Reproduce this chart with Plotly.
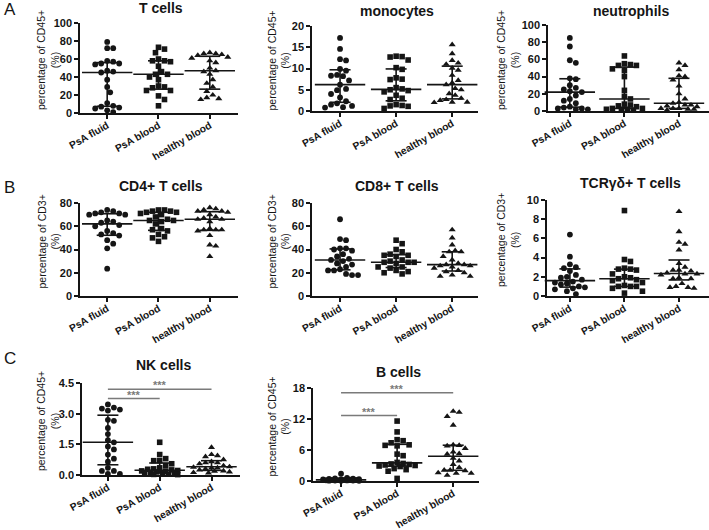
import numpy as np
import plotly.graph_objects as go

# ---------------- data ----------------
groups = ["PsA fluid", "PsA blood", "healthy blood"]

tcells_fluid = [79, 72, 72, 58, 57, 55, 55, 54, 47, 46, 45, 37, 29, 23, 11, 8, 7, 6, 5, 3, 1]
tcells_blood = [73, 71, 67, 60, 58, 58, 57, 52, 46, 43, 43, 40, 37, 30, 29, 28, 25, 25, 19, 15, 8]
tcells_healthy = [67, 66, 66, 65, 64, 62, 61, 58, 56, 50, 47, 46, 43, 37, 33, 29, 24, 20, 17, 16, 15]

mono_fluid = [17.2, 14.6, 12.2, 11.9, 9.9, 9.5, 8.5, 8.3, 8.2, 7.2, 6.2, 5.2, 4.9, 4.0, 3.2, 2.3, 1.8, 1.5, 1.2, 0.9, 0.8]
mono_blood = [12.9, 12.8, 12.7, 12.0, 10.2, 9.8, 7.8, 7.5, 7.4, 5.5, 5.2, 5.0, 4.8, 4.5, 3.7, 3.0, 2.7, 1.5, 1.3, 1.2, 1.1, 0.6]
mono_healthy = [15.6, 13.5, 11.9, 11.3, 11.0, 10.1, 9.6, 8.4, 7.2, 6.6, 6.2, 5.3, 5.0, 4.1, 3.7, 3.0, 2.7, 2.5, 2.1, 2.0, 2.1]

neut_fluid = [85, 75, 59, 56, 38, 37, 30, 27, 25, 23, 22, 18, 14, 12, 9, 5, 4, 3, 3, 2, 2]
neut_blood = [64, 55, 54, 53, 53, 49, 47, 40, 24, 17, 14, 8, 7, 6, 5, 3, 3, 2, 2, 2, 1]
neut_healthy = [56, 53, 48, 41, 40, 36, 29, 20, 14, 10, 9, 7, 7, 6, 5, 3, 3, 3, 2, 2, 1]

cd4_fluid = [74, 73, 72, 71, 71, 70, 70, 65, 64, 63, 61, 60, 56, 54, 53, 52, 48, 45, 41, 23.5]
cd4_blood = [74, 74, 73, 73, 72, 72, 71, 70, 68, 66, 65, 65, 64, 62, 58, 57, 56, 53, 51, 50, 47]
cd4_healthy = [76, 75, 74, 73, 73, 72, 70, 68, 67, 66, 66, 64, 58, 57, 57, 57, 56, 52, 44, 43, 34]

cd8_fluid = [66, 49, 48, 41, 41, 40, 39, 36, 34, 32, 31, 30, 28, 27, 25, 23, 22, 22, 19, 18, 18]
cd8_blood = [48, 45, 40, 38, 36, 35, 35, 34, 31, 30, 29, 29, 29, 28, 25, 25, 24, 22, 21, 20, 19]
cd8_healthy = [57, 50, 44, 39, 38, 38, 34, 31, 28, 27, 27, 26, 26, 25, 24, 22, 21, 20, 18, 17, 17]

tcrgd_fluid = [6.4, 4.1, 3.3, 3.0, 2.9, 2.6, 2.2, 2.0, 1.9, 1.7, 1.5, 1.4, 1.3, 1.2, 1.0, 0.9, 0.8, 0.7, 0.5, 0.2]
tcrgd_blood = [8.9, 3.8, 3.6, 2.9, 2.8, 2.8, 2.7, 2.3, 2.0, 1.9, 1.8, 1.7, 1.6, 1.4, 1.1, 1.0, 1.0, 1.0, 0.8, 0.5, 0.3]
tcrgd_healthy = [8.8, 6.7, 5.6, 5.4, 4.8, 3.4, 3.0, 2.7, 2.7, 2.6, 2.4, 2.3, 2.3, 2.2, 1.9, 1.8, 1.8, 1.3, 1.0, 0.9, 0.9, 0.8]

nk_fluid = [3.45, 3.3, 3.25, 3.2, 3.15, 2.7, 2.65, 2.3, 2.0, 1.7, 1.6, 1.4, 1.25, 1.0, 0.8, 0.65, 0.35, 0.2, 0.2, 0.05, 0.05]
nk_blood = [1.6, 1.0, 0.8, 0.7, 0.7, 0.55, 0.45, 0.35, 0.3, 0.28, 0.25, 0.22, 0.2, 0.18, 0.15, 0.12, 0.1, 0.08, 0.06, 0.04, 0.03, 0.02]
nk_healthy = [1.35, 1.0, 0.95, 0.9, 0.75, 0.65, 0.6, 0.6, 0.55, 0.45, 0.4, 0.38, 0.35, 0.35, 0.3, 0.25, 0.2, 0.18, 0.15, 0.12, 0.1]

bcell_fluid = [1.4, 0.6, 0.5, 0.45, 0.4, 0.35, 0.3, 0.3, 0.25, 0.22, 0.2, 0.2, 0.18, 0.15, 0.12, 0.1, 0.08, 0.06, 0.05, 0.03]
bcell_blood = [11.6, 9.5, 8.0, 7.8, 7.4, 7.0, 6.9, 6.8, 5.2, 4.9, 3.6, 3.4, 3.3, 3.2, 3.1, 3.0, 2.9, 2.8, 2.4, 2.2, 1.9, 0.5]
bcell_healthy = [13.5, 13.3, 12.5, 10.8, 7.0, 6.9, 6.8, 6.3, 5.6, 5.3, 5.2, 4.4, 3.9, 3.2, 2.6, 2.1, 2.1, 2.0, 1.6, 1.5, 1.5, 1.1]

nk_sig_pairs = [(0, 1), (0, 2)]
nk_sig_heights = [3.74, 4.19]
nk_sig_labels = ["***", "***"]
bcell_sig_pairs = [(0, 1), (0, 2)]
bcell_sig_heights = [12.66, 17.1]
bcell_sig_labels = ["***", "***"]

# ---------------- layout / style ----------------
W, H = 709, 530
FONT = "Liberation Sans, Arial, sans-serif"
INK = "#151515"
SIGC = "#7a7a7a"
symbols = ["circle", "square", "triangle-up"]
msizes = [5.8, 5.6, 6.2]

panels = [
    dict(title="T cells", ytitle="percentage of CD45+<br>(%)", data=[tcells_fluid, tcells_blood, tcells_healthy],
         ymax=100, dtick=20, fmt="", xpx=(80, 238), xr=(-0.53, 2.55), ypx=(23, 113), ttl_y=8, yt_x=48),
    dict(title="monocytes", ytitle="percentage of CD45+<br>(%)", data=[mono_fluid, mono_blood, mono_healthy],
         ymax=20, dtick=5, fmt="", xpx=(312, 478), xr=(-0.5, 2.46), ypx=(26, 111), ttl_y=11, yt_x=278),
    dict(title="neutrophils", ytitle="percentage of CD45+<br>(%)", data=[neut_fluid, neut_blood, neut_healthy],
         ymax=100, dtick=20, fmt="", xpx=(548, 709), xr=(-0.4, 2.55), ypx=(25, 111), ttl_y=11, yt_x=508),
    dict(title="CD4+ T cells", ytitle="percentage of CD3+<br>(%)", data=[cd4_fluid, cd4_blood, cd4_healthy],
         ymax=80, dtick=20, fmt="", xpx=(80, 238), xr=(-0.53, 2.55), ypx=(203, 296), ttl_y=186, yt_x=48),
    dict(title="CD8+ T cells", ytitle="percentage of CD3+<br>(%)", data=[cd8_fluid, cd8_blood, cd8_healthy],
         ymax=80, dtick=20, fmt="", xpx=(312, 478), xr=(-0.5, 2.46), ypx=(203, 296), ttl_y=186, yt_x=278),
    dict(title="TCRγδ+ T cells", ytitle="percentage of CD3+<br>(%)", data=[tcrgd_fluid, tcrgd_blood, tcrgd_healthy],
         ymax=10, dtick=2, fmt="", xpx=(547, 709), xr=(-0.42, 2.55), ypx=(200, 296), ttl_y=183, yt_x=508),
    dict(title="NK cells", ytitle="percentage of CD45+<br>(%)", data=[nk_fluid, nk_blood, nk_healthy],
         ymax=4.5, dtick=1.5, fmt=".1f", xpx=(82, 240), xr=(-0.5, 2.55), ypx=(383, 475), ttl_y=365, yt_x=48,
         sig=(nk_sig_pairs, nk_sig_heights, nk_sig_labels)),
    dict(title="B cells", ytitle="percentage of CD45+<br>(%)", data=[bcell_fluid, bcell_blood, bcell_healthy],
         ymax=18, dtick=6, fmt="", xpx=(313, 479), xr=(-0.5, 2.46), ypx=(388, 481), ttl_y=372, yt_x=278,
         sig=(bcell_sig_pairs, bcell_sig_heights, bcell_sig_labels)),
]


def swarm(vals, px_y, D=6.0, maxw=19.0):
    """Deterministic beeswarm offsets (in px) computed from the values."""
    vals = np.asarray(vals, dtype=float)
    order = np.argsort(-vals, kind="stable")
    step = D * 0.5
    cands = [0.0]
    m = 1
    while m * step <= maxw:
        cands += [m * step, -m * step]
        m += 1
    placed = []
    offs = np.zeros(len(vals))
    for idx in order:
        y = vals[idx] * px_y
        best, bestd = None, -1
        for c in cands:
            dmin = min([np.hypot(c - px, y - py) for px, py in placed] or [1e9])
            if dmin >= D:
                best = c
                break
            if dmin > bestd:
                bestd, best = dmin, c
        placed.append((best, y))
        offs[idx] = best
    return offs


fig = go.Figure()
layout = dict(
    width=W, height=H, margin=dict(l=0, r=0, t=0, b=0, pad=0, autoexpand=False),
    paper_bgcolor="white", plot_bgcolor="white", showlegend=False,
    font=dict(family=FONT, color=INK),
)
annotations = []
shapes = []

for i, p in enumerate(panels, start=1):
    sfx = "" if i == 1 else str(i)
    xname, yname = "x" + sfx, "y" + sfx
    x0, x1 = p["xpx"]
    top, bot = p["ypx"]
    px_x = (x1 - x0) / (p["xr"][1] - p["xr"][0])
    px_y = (bot - top) / p["ymax"]

    axis_common = dict(showline=True, linecolor=INK, linewidth=1.5, ticks="outside", ticklen=4,
                       tickwidth=1.5, tickcolor=INK, showgrid=False, zeroline=False, automargin=False)
    layout["xaxis" + sfx] = dict(domain=[x0 / W, x1 / W], range=list(p["xr"]), anchor=yname,
                                 tickmode="array", tickvals=[0, 1, 2], ticktext=groups,
                                 tickangle=-30, ticklabelstandoff=-3,
                                 tickfont=dict(family=FONT, size=10.2, color=INK, weight="bold"),
                                 **axis_common)
    layout["yaxis" + sfx] = dict(domain=[1 - bot / H, 1 - top / H], range=[0, p["ymax"]], anchor=xname,
                                 dtick=p["dtick"], tick0=0, tickformat=p["fmt"],
                                 tickfont=dict(family=FONT, size=11, color=INK, weight="bold"),
                                 **axis_common)

    for g, vals in enumerate(p["data"]):
        offs = swarm(vals, px_y)
        xs = g + offs / px_x
        fig.add_trace(go.Scatter(
            x=xs, y=vals, mode="markers", xaxis=xname, yaxis=yname, cliponaxis=False,
            marker=dict(symbol=symbols[g], size=msizes[g], color=INK, line=dict(width=0)),
            hoverinfo="skip"))
        arr = np.asarray(vals, dtype=float)
        q1, med, q3 = [float(v) for v in np.percentile(arr, [25, 50, 75], method="weibull")]
        # interquartile whisker
        fig.add_trace(go.Scatter(
            x=[g, g], y=[q1, q3], mode="lines+markers", xaxis=xname, yaxis=yname, cliponaxis=False,
            line=dict(color=INK, width=1.6),
            marker=dict(symbol="line-ew", size=15, color=INK, line=dict(width=1.6, color=INK)),
            hoverinfo="skip"))
        # median line
        fig.add_trace(go.Scatter(
            x=[g], y=[med], mode="markers", xaxis=xname, yaxis=yname, cliponaxis=False,
            marker=dict(symbol="line-ew", size=36, color=INK, line=dict(width=1.6, color=INK)),
            hoverinfo="skip"))

    # title
    annotations.append(dict(text=p["title"], xref="paper", yref="paper",
                            x=((x0 + x1) / 2 + 2) / W, y=1 - p["ttl_y"] / H,
                            xanchor="center", yanchor="middle", showarrow=False,
                            font=dict(family=FONT, size=14, color=INK, weight="bold")))
    # y title
    annotations.append(dict(text=p["ytitle"], xref="paper", yref="paper",
                            x=p["yt_x"] / W, y=1 - ((top + bot) / 2 - 8) / H,
                            xanchor="center", yanchor="middle", textangle=-90, showarrow=False,
                            font=dict(family=FONT, size=10.5, color=INK)))
    # significance bars
    if "sig" in p:
        pairs, heights, labels = p["sig"]
        for (a, b), hgt, lab in zip(pairs, heights, labels):
            shapes.append(dict(type="line", xref=xname, yref=yname, x0=a, x1=b, y0=hgt, y1=hgt,
                               line=dict(color=SIGC, width=1.5)))
            annotations.append(dict(text=lab, xref=xname, yref=yname, x=(a + b) / 2, y=hgt,
                                    xanchor="center", yanchor="bottom", yshift=-4, showarrow=False,
                                    font=dict(family=FONT, size=11, color=SIGC, weight="bold")))

for lab, yy in [("A", 10), ("B", 187), ("C", 358)]:
    annotations.append(dict(text=lab, xref="paper", yref="paper", x=2 / W, y=1 - yy / H,
                            xanchor="left", yanchor="middle", showarrow=False,
                            font=dict(family=FONT, size=17, color=INK)))

layout["annotations"] = annotations
layout["shapes"] = shapes
fig.update_layout(**layout)
fig.write_html("out.html", config={"displayModeBar": False},
               post_script="document.body.style.margin='0px';")
